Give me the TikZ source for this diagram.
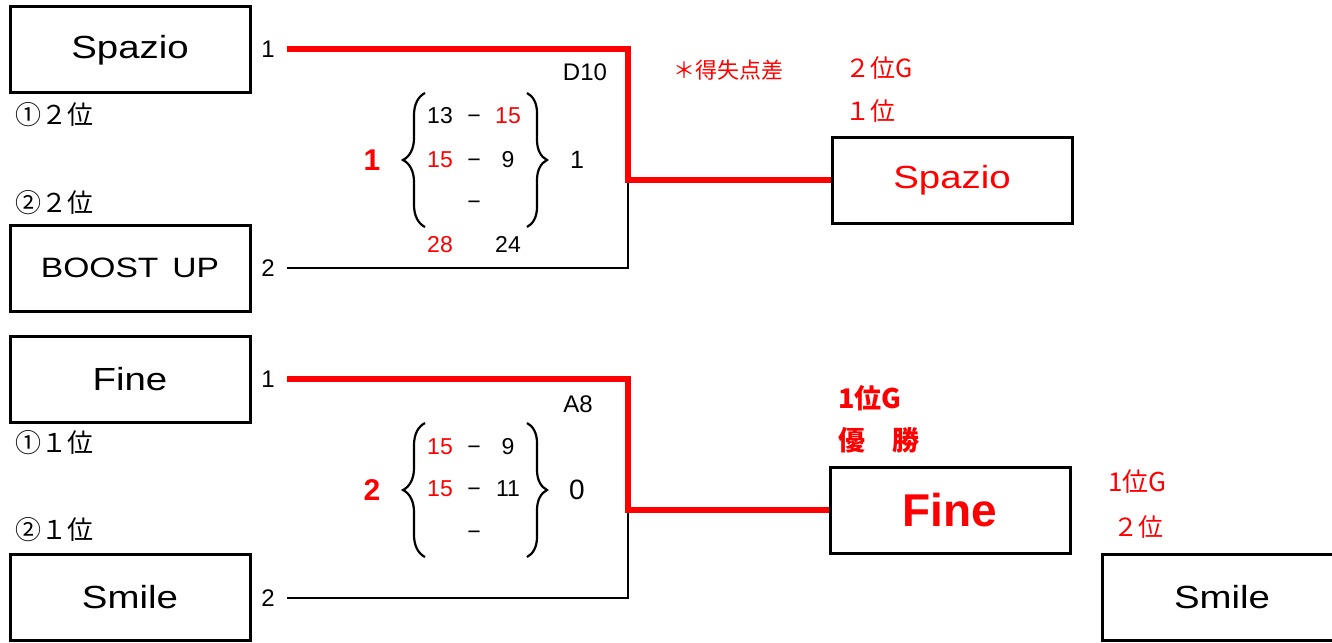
\documentclass[tikz,border=0pt]{standalone}
\usepackage{fontspec}
\usepackage{tikz}
\usetikzlibrary{positioning,decorations.pathreplacing}
\setmainfont{Liberation Sans}
\newfontfamily\boxfont[FakeStretch=1.2]{Liberation Sans}
\newfontfamily\jp{Noto Sans CJK JP}
\definecolor{winRed}{RGB}{255,0,0}

\begin{document}
\begin{tikzpicture}[x=0.5pt,y=-0.5pt,
    team/.style={draw,line width=1.5pt,minimum width=120pt,minimum height=43pt,inner sep=0pt,font=\boxfont\fontsize{16}{16}\selectfont},
    seed/.style={anchor=west,inner sep=0pt,font=\jp\fontsize{13}{13}\selectfont},
    note/.style={anchor=west,inner sep=0pt,text=winRed,font=\jp\fontsize{12.5}{12.5}\selectfont},
    port/.style={inner sep=0pt,font=\fontsize{12}{12}\selectfont},
    score/.style={inner sep=0pt,text height=0.72em,text depth=0pt,font=\fontsize{11.5}{11.5}\selectfont},
    sets/.style={inner sep=0pt,font=\bfseries\fontsize{15}{15}\selectfont,text=winRed},
    win/.style={winRed,line width=3pt},
    lose/.style={line width=1.2pt},
    bracel/.style={decorate,decoration={brace,amplitude=11pt},line width=1.1pt},
    bracer/.style={decorate,decoration={brace,amplitude=10pt},line width=1.1pt}
  ]
  \useasboundingbox (0,0) rectangle (1332,642);

  % first round, left side
  \node[team] (spazio) at (130,50) {Spazio};
  \node[team,font=\boxfont\fontsize{14}{14}\selectfont] (boost) at (130,268) {BOOST\hspace{7pt}UP};
  \node[team] (fine) at (130,379) {Fine};
  \node[team] (smile) at (130,597) {Smile};
  \node[seed] at (15,115) {①２位};
  \node[seed] at (15,203) {②２位};
  \node[seed] at (15,443) {①１位};
  \node[seed] at (15,530) {②１位};

  \node[port] (p1) at (268,49) {1};
  \node[port] (p2) at (268,268) {2};
  \node[port] (p3) at (268,379) {1};
  \node[port] (p4) at (268,598) {2};

  % results
  \node[team,text=winRed,font=\boxfont\fontsize{16}{16}\selectfont] (wSpazio) at (952,180) {Spazio};
  \node[team,text=winRed,font=\bfseries\fontsize{23}{23}\selectfont] (wFine) at (950,510) {Fine};
  \node[team,font=\boxfont\fontsize{16}{16}\selectfont] (rSmile) at (1222,597) {Smile};

  \coordinate (m1) at (628,180);
  \coordinate (m2) at (628,510);

  \draw[lose,shorten <=6pt] (p2.east) -| (m1);
  \draw[win,shorten <=6pt] (p1.east) -| (m1) |- (wSpazio.west);
  \draw[lose,shorten <=6pt] (p4.east) -| (m2);
  \draw[win,shorten <=6pt] (p3.east) -| (m2) |- (wFine.west);

  % D10 scores
  \node[score,font=\fontsize{12}{12}\selectfont] (d10) at (585,73) {D10};
  \draw[bracel] (425,227) -- (425,93);
  \draw[bracer] (527,93) -- (527,227);
  \node[score] (d1a) at (440,116) {13};
  \node[score] at (474,116) {−};
  \node[score,text=winRed] (d1b) at (508,116) {15};
  \node[score,text=winRed] (d2a) at (440,160) {15};
  \node[score] at (474,160) {−};
  \node[score] (d2b) at (508,160) {9};
  \node[score] at (474,202) {−};
  \node[score,text=winRed] (d10l) at (440,245) {28};
  \node[score] (d10r) at (508,245) {24};
  \node[sets] (d10w) at (372,160) {1};
  \node[port,font=\fontsize{12.5}{12.5}\selectfont] (d10s) at (577,160) {1};

  % A8 scores
  \node[score,font=\fontsize{12}{12}\selectfont] (a8) at (578,405) {A8};
  \draw[bracel] (425,557) -- (425,423);
  \draw[bracer] (527,423) -- (527,557);
  \node[score,text=winRed] (a1a) at (440,447) {15};
  \node[score] at (474,447) {−};
  \node[score] (a1b) at (508,447) {9};
  \node[score,text=winRed] (a2a) at (440,489) {15};
  \node[score] at (474,489) {−};
  \node[score] (a2b) at (508,489) {11};
  \node[score] at (474,532) {−};
  \node[sets] (a8w) at (372,490) {2};
  \node[port,font=\fontsize{14}{14}\selectfont] (a8s) at (577,490) {0};

  % notes
  \node[note,anchor=center,font=\jp\fontsize{11}{11}\selectfont] at (728,70) {＊得失点差};
  \node[note] at (845,68) {２位G};
  \node[note] at (845,111) {１位};
  \node[note,font=\jp\bfseries\fontsize{13.5}{13.5}\selectfont] at (838,398) {1位G};
  \node[note,font=\jp\bfseries\fontsize{13.5}{13.5}\selectfont] at (838,440) {優　勝};
  \node[note,font=\jp\fontsize{13}{13}\selectfont] at (1108,482) {1位G};
  \node[note] at (1113,527) {２位};
\end{tikzpicture}
\end{document}
